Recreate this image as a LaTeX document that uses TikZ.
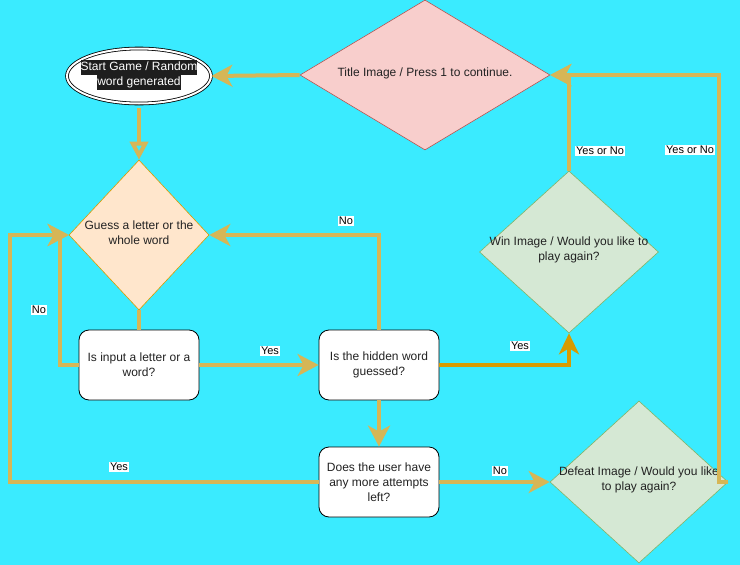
\documentclass[tikz,border=0pt]{standalone}
\usepackage{fontspec}
\setmainfont{Liberation Sans}
\usetikzlibrary{shapes.geometric,arrows.meta}
\definecolor{bg}{RGB}{58,235,255}
\definecolor{conn}{HTML}{D6B656}
\definecolor{conndark}{HTML}{D79B00}
\definecolor{pinkf}{HTML}{F8CECC}
\definecolor{pinkd}{HTML}{B85450}
\definecolor{orangef}{HTML}{FFE6CC}
\definecolor{oranged}{HTML}{D79B00}
\definecolor{greenf}{HTML}{D5E8D4}
\definecolor{greend}{HTML}{82B366}
\definecolor{txtc}{HTML}{222222}
\definecolor{hlc}{HTML}{1E1E1E}
\newcommand{\hlline}[1]{{\setlength{\fboxsep}{0pt}\colorbox{hlc}{\strut\textcolor{white}{#1}}}}
\begin{document}
\begin{tikzpicture}[x=1pt,y=-1pt,
  diam/.style={diamond, inner sep=0pt, line width=0.6pt},
  txt/.style={align=center, inner sep=0pt, text=txtc, font=\fontsize{12}{15}\selectfont},
  rbox/.style={rectangle, rounded corners=10pt, draw=black, fill=white, line width=0.8pt,
    minimum width=120pt, minimum height=70pt, align=center, inner sep=0pt, text=txtc,
    font=\fontsize{12}{15}\selectfont},
  elab/.style={fill=white, inner sep=0.8pt, text=black, font=\fontsize{11}{13}\selectfont},
  link/.style={draw=conn, line width=4pt, -{Stealth[length=21pt,width=22pt,inset=6pt]}},
  linkopen/.style={draw=conn, line width=4pt, -{Triangle[open,length=18pt,width=18pt]}},
  linkdark/.style={draw=conndark, line width=4pt, -{Stealth[length=21pt,width=20pt,inset=6pt]}}
]
\fill[bg] (0,0) rectangle (740,565);
\useasboundingbox (0,0) rectangle (740,565);

% shapes
\node[diam, fill=pinkf, draw=pinkd, minimum width=250pt, minimum height=150pt] (title) at (425,75) {};
\node[txt] (titletxt) at (425,73) {Title Image / Press 1 to continue.};

\node[ellipse, draw=black, line width=0.8pt, double=white, double distance=2pt, fill=white,
  minimum width=144pt, minimum height=55pt, inner sep=0pt] (start) at (139,76) {};
\node[align=center, inner sep=0pt, font=\fontsize{12}{15}\selectfont] (starttxt) at (139,75)
  {\hlline{Start Game / Random}\\\hlline{word generated}};

\node[diam, fill=orangef, draw=oranged, minimum width=140pt, minimum height=150pt] (guess) at (139,235) {};
\node[txt] (guesstxt) at (139,233) {Guess a letter or the\\whole word};

\node[rbox] (input) at (139,365) {Is input a letter or a\\word?};
\node[rbox] (hidden) at (379,365) {Is the hidden word\\guessed?};
\node[rbox] (attempts) at (379,482) {Does the user have\\any more attempts\\left?};

\node[diam, fill=greenf, draw=greend, minimum width=179pt, minimum height=162pt] (win) at (569,252) {};
\node[txt] (wintxt) at (569,250) {Win Image / Would you like to\\play again?};

\node[diam, fill=greenf, draw=greend, minimum width=178pt, minimum height=162pt] (defeat) at (639,482) {};
\node[txt] (defeattxt) at (639,480) {Defeat Image / Would you like\\to play again?};

% connectors
\draw[link] (title.west) -- (start.east);
\draw[linkopen, shorten <=4pt] (start.south) -- (guess.north);
\draw[draw=conn, line width=4pt] (guess.south) -- (input.north);
\draw[link] (input.west) -- ++(-19,0) |- (guess.west);
\draw[link] (input.east) -- (hidden.west);
\draw[link] (hidden.north) |- (guess.east);
\draw[linkdark] (hidden.east) -| (win.south);
\draw[link] (hidden.south) -- (attempts.north);
\draw[link] (attempts.west) -- ++(-309,0) |- (guess.west);
\draw[link] (attempts.east) -- (defeat.west);
\draw[link] (win.north) |- (title.east);
\draw[link] (defeat.east) -- ++(-9,0) |- (title.east);

% edge labels
\node[elab] (lno1) at (39,310) {No};
\node[elab] (lno2) at (346,221) {No};
\node[elab] (lyes1) at (270,351) {Yes};
\node[elab] (lyes2) at (119,467) {Yes};
\node[elab] (lyes3) at (520,346) {Yes};
\node[elab] (lno3) at (500,471) {No};
\node[elab] (lyn1) at (600,151) {Yes or No};
\node[elab] (lyn2) at (690,150) {Yes or No};
\end{tikzpicture}
\end{document}
